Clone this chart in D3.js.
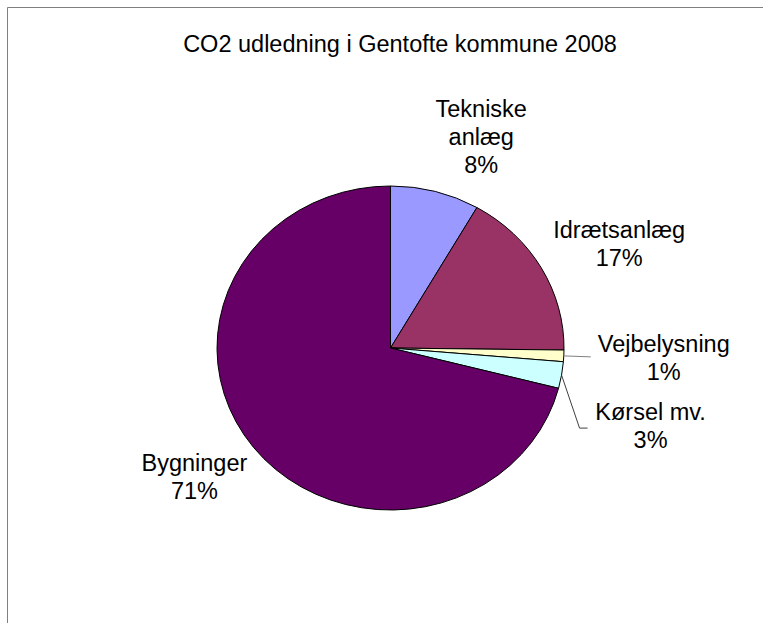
<!DOCTYPE html>
<html>
<head>
<meta charset="utf-8">
<script src="https://cdn.jsdelivr.net/npm/d3@7"></script>
<style>
  html, body { margin: 0; padding: 0; background: #fff; }
  svg { display: block; }
  text { font-family: "Liberation Sans", Arial, sans-serif; fill: #000; }
</style>
</head>
<body>
<div id="chart"></div>
<script>
// data (shares in %, labels show rounded values)
const categories = ["Tekniske anlæg", "Idrætsanlæg", "Vejbelysning", "Kørsel mv.", "Bygninger"];
const labelLines = [["Tekniske", "anlæg"], ["Idrætsanlæg"], ["Vejbelysning"], ["Kørsel mv."], ["Bygninger"]];
const shares = [8.3, 16.9, 1.15, 2.65, 71.0];
const shownPct = ["8%", "17%", "1%", "3%", "71%"];
const colors = ["#9999FF", "#993366", "#FFFFCC", "#CCFFFF", "#660066"];

const title = "CO2 udledning i Gentofte kommune 2008";

const width = 763, height = 623;
const cx = 390.5, cy = 348;
const ry = 162, rx = 173.5;   // pie is slightly stretched sideways
const sx = rx / ry;
const lineH = 28;

// label nudges from the slice's outer edge point (layout only)
const labelNudge = [[46, -74], [78, -30], [100, -4], [89, 45], [-59, 24]];

const svg = d3.select("#chart").append("svg")
    .attr("width", width)
    .attr("height", height);

// chart area frame (only top and left edges are inside the view)
svg.append("path")
    .attr("d", `M7.5,${height} V7.5 H${width}`)
    .attr("fill", "none")
    .attr("stroke", "#808080")
    .attr("stroke-width", 1);

svg.append("text")
    .attr("x", 400)
    .attr("y", 52)
    .attr("text-anchor", "middle")
    .style("font-size", "23.5px")
    .text(title);

const pie = d3.pie().sort(null).value(d => d)(shares);
const arc = d3.arc().innerRadius(0).outerRadius(ry);
const edge = d3.arc().innerRadius(ry).outerRadius(ry);

const g = svg.append("g")
    .attr("transform", `translate(${cx},${cy}) scale(${sx},1)`);

g.selectAll("path.slice")
  .data(pie)
  .enter()
  .append("path")
  .attr("class", "slice")
  .attr("d", arc)
  .attr("fill", (d, i) => colors[i])
  .attr("stroke", "#000")
  .attr("stroke-width", 1)
  .attr("vector-effect", "non-scaling-stroke");

function edgePoint(d) {
    const c = edge.centroid(d);
    return [cx + c[0] * sx, cy + c[1]];
}

// leader lines for the two thin slices
const leaders = {
    2: p => [p, [p[0] + 27, p[1] + 1]],
    3: p => [p, [p[0] + 18, p[1] + 53], [p[0] + 26, p[1] + 53]]
};
pie.forEach((d, i) => {
    if (!leaders[i]) return;
    svg.append("path")
        .attr("d", d3.line()(leaders[i](edgePoint(d))))
        .attr("fill", "none")
        .attr("stroke", i === 2 ? "#808080" : "#404040")
        .attr("stroke-width", 1);
});

const labels = svg.selectAll("text.lbl")
  .data(pie)
  .enter()
  .append("text")
  .attr("class", "lbl")
  .attr("text-anchor", "middle")
  .style("font-size", "23.5px")
  .each(function(d, i) {
      const p = edgePoint(d);
      const x = p[0] + labelNudge[i][0];
      const y = p[1] + labelNudge[i][1];
      const lines = labelLines[i].concat([shownPct[i]]);
      const t = d3.select(this);
      lines.forEach((s, k) => {
          t.append("tspan")
            .attr("x", x)
            .attr("y", y + k * lineH)
            .text(s);
      });
  });
</script>
</body>
</html>
